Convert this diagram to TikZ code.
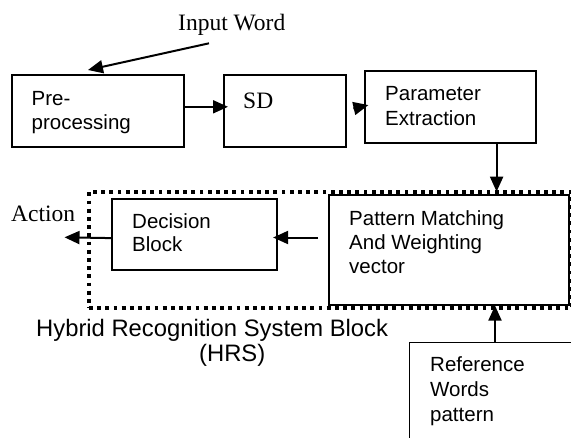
\documentclass[tikz,border=0pt]{standalone}
\usepackage{fontspec}
\setmainfont{Liberation Serif}
\setsansfont{Liberation Sans}
\usetikzlibrary{arrows.meta}

\begin{document}
\begin{tikzpicture}[x=1pt,y=-1pt,
  box/.style={draw, line width=1.6pt, inner sep=0pt, anchor=north west},
  lbl/.style={font=\fontsize{20.5}{24.5}\selectfont\sffamily, align=left, anchor=base west, inner sep=0pt},
  serif/.style={font=\fontsize{23.5}{28}\selectfont\rmfamily, inner sep=0pt, anchor=base west},
  arr/.style={line width=2pt, -{Triangle[length=15pt,width=13pt]}},
  hrsline/.style={draw, line width=3.8pt, dash pattern=on 3.8pt off 4.4pt, inner sep=0pt, anchor=north west}
]
\useasboundingbox (0,0) rectangle (571,437);
\clip (0,0) rectangle (571,437);

% dotted frame of the HRS block
\node[hrsline, minimum width=483pt, minimum height=116pt] (hrsframe) at (87,190) {};

% processing blocks
\node[box, minimum width=172pt, minimum height=72pt] (pre) at (11,74) {};
\node[box, minimum width=122pt, minimum height=72pt] (sd)  at (223,74) {};
\node[box, minimum width=171pt, minimum height=72pt] (pe)  at (364,70) {};
\node[box, minimum width=165pt, minimum height=71pt] (dec) at (111,198) {};
\node[box, fill=white, minimum width=240pt, minimum height=110pt] (pm) at (328,194) {};
\node[box, minimum width=180pt, minimum height=120pt] (ref) at (408.5,341.5) {};

% labels (a multi-line label sits on the baseline of its last line)
\node[serif] (inword) at (178,30) {Input Word};
\node[lbl] (pretext) at (31.5,129.5) {Pre-\\processing};
\node[serif] (sdtext) at (243,108) {SD};
\node[lbl] (petext) at (385,125) {Parameter\\Extraction};
\node[serif] (action) at (11,221.7) {Action};
\node[lbl, font=\fontsize{20.5}{23.6}\selectfont\sffamily] (dectext) at (132,251.9) {Decision\\Block};
\node[lbl, font=\fontsize{20.5}{24.2}\selectfont\sffamily] (pmtext) at (349,273.4) {Pattern Matching\\And Weighting\\vector};
\node[lbl, font=\fontsize{23.8}{28}\selectfont\sffamily] (hrstitle) at (36,336.7) {Hybrid Recognition System Block};
\node[lbl, font=\fontsize{23.8}{28}\selectfont\sffamily] (hrsabbr) at (199,361) {(HRS)};
\node[lbl, font=\fontsize{20.5}{24.7}\selectfont\sffamily] (reftext) at (430,421.1) {Reference\\Words\\pattern};

% connectors
\coordinate (inwordtail) at (209,43.3);
\coordinate (pretip) at (88,70);
\coordinate (actiontip) at (64.5,237.3);
\coordinate (decin) at ([yshift=-3.2pt]dec.east);

\draw[arr] (inwordtail) -- (pretip);
\draw[arr, shorten >=-5pt] ([yshift=4pt]pre.east) -- ([yshift=4pt]sd.west);
\draw[arr, shorten <=7pt, shorten >=-4.5pt] ([yshift=0.7pt]sd.east) -- ([yshift=0.7pt]pe.west);
\draw[arr, shorten >=-1.7pt] ([xshift=-40pt]pe.south east) -- ([xshift=-40pt]pe.south east |- hrsframe.north);
\draw[arr, shorten <=10pt, shorten >=-4.5pt] (pm.west |- decin) -- (decin);
\draw[arr] ([yshift=-3.8pt]dec.west) -- (actiontip);
\draw[arr] ([xshift=86.5pt]ref.north west) -- ([xshift=86.5pt]ref.north west |- pm.south);
\end{tikzpicture}
\end{document}
